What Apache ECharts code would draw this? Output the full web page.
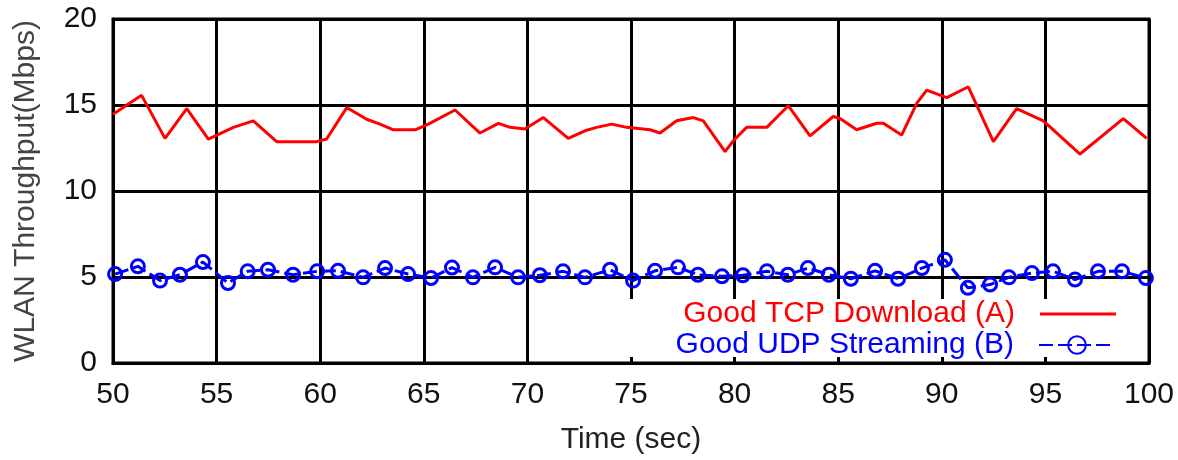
<!DOCTYPE html>
<html>
<head>
<meta charset="utf-8">
<script src="https://cdn.jsdelivr.net/npm/echarts@6/dist/echarts.min.js"></script>
<style>html,body{margin:0;padding:0;background:#fff}#c{width:1178px;height:460px}</style>
</head>
<body>
<div id="c"></div>
<script>
const xTicks = [50, 55, 60, 65, 70, 75, 80, 85, 90, 95, 100];
const yTicks = [0, 5, 10, 15, 20];
const seriesNames = ['Good TCP Download (A)', 'Good UDP Streaming (B)'];

const tcpTime = [50.0, 51.38, 52.51, 53.56, 54.6, 55.81, 56.77, 57.9, 59.83, 60.31, 61.28, 62.24, 62.89, 63.53, 64.58, 65.22, 66.51, 67.71, 68.6, 69.16, 69.88, 70.77, 71.97, 72.78, 73.34, 74.07, 74.79, 75.92, 76.4, 77.2, 78.01, 78.49, 79.54, 79.94, 80.58, 81.55, 82.59, 83.64, 84.76, 85.09, 85.89, 86.86, 87.18, 88.06, 88.79, 89.27, 90.24, 91.28, 92.49, 93.61, 94.9, 96.67, 98.76, 99.89];
const tcpValue = [14.46, 15.56, 13.06, 14.79, 13.02, 13.7, 14.08, 12.87, 12.87, 13.02, 14.85, 14.17, 13.89, 13.56, 13.56, 13.89, 14.71, 13.37, 13.93, 13.7, 13.6, 14.27, 13.06, 13.5, 13.7, 13.89, 13.7, 13.56, 13.37, 14.08, 14.27, 14.08, 12.29, 12.92, 13.7, 13.7, 14.96, 13.21, 14.33, 14.21, 13.56, 13.94, 13.94, 13.25, 15.1, 15.87, 15.43, 16.06, 12.87, 14.79, 14.08, 12.15, 14.21, 13.06];

const udpTime = [50.1, 51.2, 52.27, 53.23, 54.34, 55.55, 56.5, 57.48, 58.69, 59.85, 60.86, 62.07, 63.13, 64.24, 65.35, 66.36, 67.37, 68.44, 69.55, 70.6, 71.72, 72.78, 73.99, 75.1, 76.16, 77.27, 78.23, 79.39, 80.4, 81.56, 82.57, 83.54, 84.55, 85.61, 86.78, 87.89, 89.04, 90.15, 91.26, 92.33, 93.24, 94.35, 95.37, 96.43, 97.54, 98.7, 99.85];
const udpValue = [5.17, 5.62, 4.79, 5.13, 5.87, 4.65, 5.33, 5.42, 5.13, 5.33, 5.36, 4.98, 5.52, 5.17, 4.94, 5.55, 4.98, 5.56, 4.98, 5.1, 5.33, 4.98, 5.42, 4.79, 5.36, 5.56, 5.13, 5.04, 5.1, 5.33, 5.13, 5.52, 5.13, 4.9, 5.36, 4.9, 5.52, 6.0, 4.37, 4.56, 4.98, 5.23, 5.33, 4.85, 5.33, 5.33, 4.94];

const FONT = 'Liberation Sans';
const FS = 30;
const tcpData = tcpTime.map((t, i) => [t, tcpValue[i]]);
const udpData = udpTime.map((t, i) => [t, udpValue[i]]);

const chart = echarts.init(document.getElementById('c'), null, {renderer: 'canvas'});
chart.setOption({
  animation: false,
  backgroundColor: '#fff',
  grid: {left: 113, right: 29, top: 19, bottom: 94, show: true, borderColor: '#000', borderWidth: 3, containLabel: false},
  graphic: [{
    type: 'rect', z: 1, silent: true,
    shape: {x: 585, y: 299, width: 559, height: 58},
    style: {fill: '#fff'}
  }],
  xAxis: {
    type: 'value', min: xTicks[0], max: xTicks[xTicks.length - 1], interval: 5,
    name: 'Time (sec)', nameLocation: 'middle', nameGap: 62,
    nameTextStyle: {fontFamily: FONT, fontSize: FS, color: '#222'},
    axisLine: {show: true, lineStyle: {color: '#000', width: 3}},
    axisTick: {show: false},
    axisLabel: {fontFamily: FONT, fontSize: FS, color: '#111', margin: 17},
    splitLine: {show: true, lineStyle: {color: '#000', width: 3}}
  },
  yAxis: {
    type: 'value', min: yTicks[0], max: yTicks[yTicks.length - 1], interval: 5,
    name: 'WLAN Throughput(Mbps)', nameLocation: 'middle', nameGap: 72,
    nameTextStyle: {fontFamily: FONT, fontSize: FS, color: '#444'},
    axisLine: {show: true, lineStyle: {color: '#000', width: 3}},
    axisTick: {show: false},
    axisLabel: {fontFamily: FONT, fontSize: FS, color: '#111', margin: 16},
    splitLine: {show: true, lineStyle: {color: '#000', width: 3}}
  },
  legend: [
    {
      data: [{name: seriesNames[0], icon: 'rect', textStyle: {color: '#ff0000'}}],
      right: 62, top: 299, align: 'right', padding: 0, itemWidth: 76, itemHeight: 3,
      textStyle: {fontFamily: FONT, fontSize: FS, padding: [0, 20, 0, 0]}
    },
    {
      data: [{name: seriesNames[1], textStyle: {color: '#0000ff'}}],
      right: 62, top: 330, align: 'right', padding: 0, itemWidth: 76, itemHeight: 22,
      textStyle: {fontFamily: FONT, fontSize: FS, padding: [0, 20, 0, 0]}
    }
  ],
  series: [
    {
      name: seriesNames[0], type: 'line', data: tcpData, symbol: 'none', z: 3,
      lineStyle: {color: '#ff0000', width: 3}, itemStyle: {color: '#ff0000'}
    },
    {
      name: seriesNames[1], type: 'line', data: udpData, symbol: 'circle', symbolSize: 13, z: 3,
      lineStyle: {color: '#0000ff', width: 3, type: [14, 5]},
      itemStyle: {color: 'rgba(0,0,0,0)', borderColor: '#0000ff', borderWidth: 3}
    }
  ]
});
</script>
</body>
</html>
